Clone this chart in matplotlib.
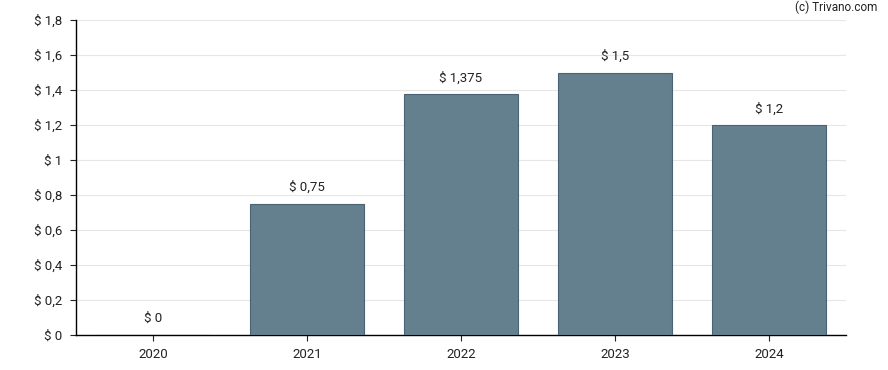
import matplotlib
matplotlib.use("Agg")
import matplotlib.pyplot as plt

years = ["2020", "2021", "2022", "2023", "2024"]
dividends = [0, 0.75, 1.375, 1.5, 1.2]
value_labels = ["$ 0", "$ 0,75", "$ 1,375", "$ 1,5", "$ 1,2"]
yticks = [0, 0.2, 0.4, 0.6, 0.8, 1.0, 1.2, 1.4, 1.6, 1.8]
ytick_labels = ["$ 0", "$ 0,2", "$ 0,4", "$ 0,6", "$ 0,8", "$ 1", "$ 1,2", "$ 1,4", "$ 1,6", "$ 1,8"]

plt.rcParams['font.family'] = ['Roboto', 'DejaVu Sans']

fig = plt.figure(figsize=(8.88, 3.70), dpi=100)
ax = fig.add_axes([76/888, 35/370, 770/888, 315/370])

x = range(len(years))
ax.bar(x, dividends, width=0.745, color="#64808f", edgecolor="#4a6272", linewidth=0.8, zorder=3)

for i, (v, lab) in enumerate(zip(dividends, value_labels)):
    ax.annotate(lab, (i, v), xytext=(0, 7), textcoords="offset points",
                ha="center", va="bottom", fontsize=9.5, color="#222222")

ax.set_xlim(-0.5, 4.5)
ax.set_ylim(0, 1.8)
ax.set_xticks(list(x))
ax.set_xticklabels(years)
ax.set_yticks(yticks)
ax.set_yticklabels(ytick_labels)
ax.tick_params(axis="both", labelsize=9.5, colors="#222222", length=4, width=0.8)
ax.tick_params(axis="y", pad=6)
ax.tick_params(axis="x", pad=5)

ax.grid(axis="y", color="#e6e6e6", linewidth=0.8, zorder=0)
for s in ["top", "right"]:
    ax.spines[s].set_visible(False)
for s in ["left", "bottom"]:
    ax.spines[s].set_color("black")
    ax.spines[s].set_linewidth(1.0)

fig.text(877/888, 1 - 7/370, "(c) Trivano.com", ha="right", va="center", fontsize=8.5, color="#222222")

fig.savefig("out.png", dpi=100)
